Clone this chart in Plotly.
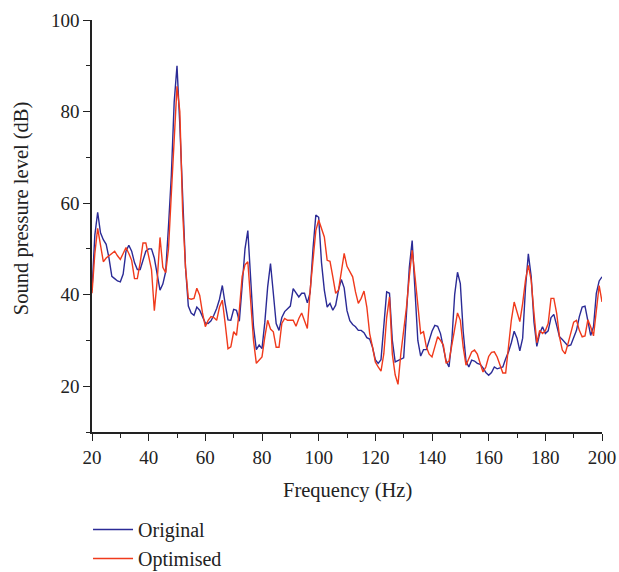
import plotly.graph_objects as go

# Frequency bins (Hz)
freq = list(range(20, 201))

# Sound pressure level, original configuration (dB)
original = [
    41, 53, 58, 53.5, 52, 51, 48, 44, 43.5, 43,        # 20-29
    42.8, 44.5, 49.5, 50.8, 49.5, 47, 45.5, 45.5, 47.5, 49.5,  # 30-39
    50, 50, 48, 44, 41, 42.3, 45, 55, 66, 82,          # 40-49
    90, 77, 60, 46, 37.5, 36, 35.5, 37.3, 36.6, 35,    # 50-59
    33.8, 33.7, 34.3, 35.5, 37, 39, 42, 38, 34.5, 34.4,  # 60-69
    36.8, 36.6, 34.2, 42, 50, 54, 43, 33, 28, 29,      # 70-79
    28.2, 34, 41.7, 46.8, 40.3, 33.7, 32.2, 35, 36.3, 37,  # 80-89
    37.5, 41.3, 40.4, 39.5, 40.3, 40.3, 38.2, 40.5, 50, 57.4,  # 90-99
    56.9, 47, 41, 37.3, 38.1, 36.6, 37.7, 41, 43.3, 41.5,  # 100-109
    36.5, 34.3, 33.5, 33, 32.2, 32.2, 31.7, 30.6, 30.3, 28.5,  # 110-119
    25.8, 25, 25.8, 33, 40.6, 40.3, 30, 25.3, 25.6, 26,  # 120-129
    26.2, 36, 46, 51.8, 42, 30, 26.6, 28, 28, 30,      # 130-139
    32, 33.3, 33.1, 31.5, 28.5, 25.5, 24.2, 30, 40, 44.9,  # 140-149
    42.4, 32, 25.5, 24.2, 25.7, 25.5, 25, 24.8, 24, 23,  # 150-159
    22.4, 23, 24.2, 23.8, 24, 24.2, 26, 27.5, 29.5, 32,  # 160-169
    30.5, 27.7, 30.5, 41.5, 48.9, 44, 34, 28.7, 31.5, 33,  # 170-179
    31.5, 32.1, 35, 35.7, 33.3, 30.8, 30.2, 29.6, 28.8, 29,  # 180-189
    30.5, 32.2, 35.2, 37.3, 37.5, 34.5, 31.1, 33, 40.3, 43,  # 190-199
    43.9,                                              # 200
]

# Sound pressure level, optimised configuration (dB)
optimised = [
    40.3, 49, 54.5, 50.5, 47.2, 48, 48.5, 49, 49.5, 48.5,  # 20-29
    47.7, 49, 50.3, 49, 47.5, 43.5, 43.5, 47, 51.3, 51.3,  # 30-39
    48.5, 45.5, 36.5, 43, 52.5, 46, 44.8, 50, 62, 73,      # 40-49
    85.5, 80, 58, 46, 39.2, 39, 39.2, 41.4, 39.9, 36,      # 50-59
    33, 34.4, 35.2, 35, 34.4, 37.3, 38.8, 33.7, 28.2, 28.6,  # 60-69
    31.9, 31.1, 36.6, 44, 46.5, 47.2, 39.5, 30, 25, 25.7,  # 70-79
    26.4, 30.8, 34.4, 32.5, 31.9, 28.5, 28.5, 33.7, 34.8, 34.4,  # 80-89
    34.4, 34.4, 33.1, 34.8, 36, 34.1, 32.6, 41, 47, 54,    # 90-99
    56.3, 54.5, 52.6, 47.5, 47.3, 43.9, 40.3, 41, 45, 49,  # 100-109
    46.2, 45, 43.9, 40.6, 38.1, 39.2, 40.8, 37.3, 31.5, 28.6,  # 110-119
    25.3, 24.2, 23.3, 27.1, 35, 39.5, 27, 22.5, 20.4, 27.1,  # 120-129
    32, 37.3, 44, 49.7, 44, 37, 31.5, 31.9, 28.6, 27,      # 130-139
    26.4, 28.6, 30.8, 30, 29, 25, 25.5, 29, 33, 36,        # 140-149
    34.4, 28.6, 24.6, 26, 27.5, 27.9, 27, 25, 23.1, 24.2,  # 150-159
    26.5, 27.4, 27.5, 26.4, 24.6, 22.9, 22.9, 28.6, 34.4, 38.4,  # 160-169
    36.2, 34.1, 38.1, 43.2, 46.4, 43.2, 35.9, 29.5, 32.2, 31.5,  # 170-179
    32.1, 33.7, 39.2, 39.2, 35.9, 30.8, 27.9, 27.1, 29.3, 32,  # 180-189
    34, 34.4, 32.2, 30.8, 31, 34.5, 33, 31, 36, 42,        # 190-199
    38.4,                                                  # 200
]

FONT = "Liberation Serif"
TEXT_COLOR = "#222222"
AXIS_COLOR = "#222222"

fig = go.Figure()
fig.add_trace(go.Scatter(
    x=freq, y=original, mode="lines", name="Original",
    line=dict(color="#2B2B96", width=1.4),
))
fig.add_trace(go.Scatter(
    x=freq, y=optimised, mode="lines", name="Optimised",
    line=dict(color="#F03A1C", width=1.4),
))

axis_common = dict(
    showgrid=False, zeroline=False, showline=True, automargin=False,
    linecolor=AXIS_COLOR, linewidth=1.5,
    ticks="outside", ticklen=7, tickwidth=1.3, tickcolor=AXIS_COLOR,
    tickfont=dict(family=FONT, size=19, color=TEXT_COLOR),
    mirror=False,
)

fig.update_xaxes(
    range=[20, 200], dtick=20, tick0=20,
    minor=dict(dtick=10, tick0=20, ticks="outside", ticklen=4,
               tickwidth=1.2, tickcolor=AXIS_COLOR),
    **axis_common,
)
fig.update_yaxes(
    range=[10, 100], dtick=20, tick0=0,
    minor=dict(dtick=10, tick0=0, ticks="outside", ticklen=4,
               tickwidth=1.2, tickcolor=AXIS_COLOR),
    **axis_common,
)

# Axis titles placed as annotations
fig.add_annotation(
    text="Frequency (Hz)",
    xref="paper", yref="paper", x=0.5, y=-0.1408,
    xanchor="center", yanchor="middle", showarrow=False,
    font=dict(family=FONT, size=20.5, color=TEXT_COLOR),
)
fig.add_annotation(
    text="Sound pressure level (dB)", textangle=-90,
    xref="paper", yref="paper", x=-0.137, y=0.5437,
    xanchor="center", yanchor="middle", showarrow=False,
    font=dict(family=FONT, size=20.5, color=TEXT_COLOR),
)

fig.update_layout(
    width=619, height=572,
    margin=dict(l=92, r=17, t=20, b=140, autoexpand=False),
    paper_bgcolor="white", plot_bgcolor="white",
    showlegend=True,
    legend=dict(
        orientation="v",
        x=-0.0078, y=-0.1893, xanchor="left", yanchor="top",
        font=dict(family=FONT, size=20, color=TEXT_COLOR),
        bgcolor="rgba(0,0,0,0)", tracegroupgap=0, itemwidth=40,
    ),
)

fig.write_html("out.html")
